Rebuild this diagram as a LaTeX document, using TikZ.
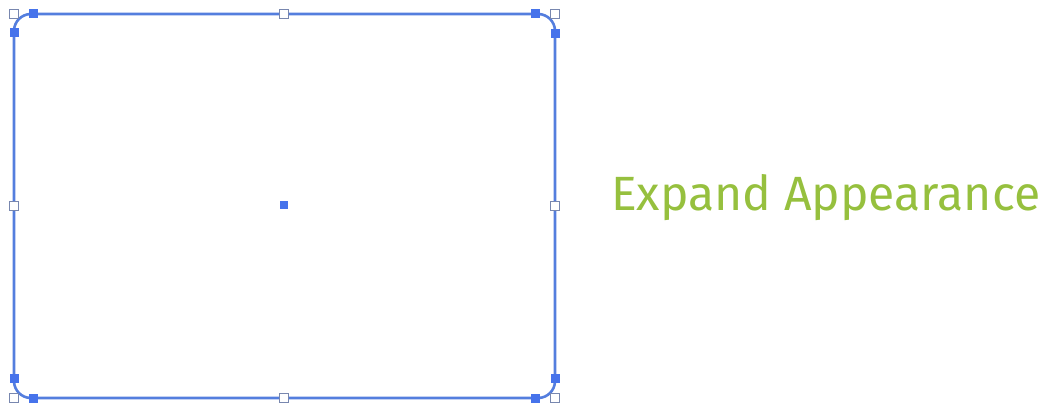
\documentclass[tikz,border=0pt]{standalone}
\usepackage{fontspec}
\setmainfont{Fira Sans}
\definecolor{pathblue}{RGB}{84,126,222}
\definecolor{boxgray}{RGB}{120,135,175}
\definecolor{anchorblue}{RGB}{70,115,235}
\definecolor{txtgreen}{RGB}{150,192,62}
\begin{document}
\begin{tikzpicture}[x=1pt,y=-1pt,
  hollow/.style={draw=boxgray,fill=white,line width=1.3pt,minimum size=9.5pt,inner sep=0pt,outer sep=0pt,rectangle},
  solid/.style={fill=anchorblue,draw=none,minimum size=9pt,inner sep=0pt,rectangle},
  pathline/.style={draw=pathblue,line width=2.6pt}]
\useasboundingbox (0,0) rectangle (1054,408);
% shape path
\draw[pathline,rounded corners=17pt] (14,14) rectangle (555,398);
% bounding box handles
\node[hollow] (tl) at (14,14) {};
\node[hollow] (tm) at (284,14) {};
\node[hollow] (tr) at (555,14) {};
\node[hollow] (ml) at (14,206) {};
\node[hollow] (mr) at (555,206) {};
\node[hollow] (bl) at (14,398) {};
\node[hollow] (bm) at (284,398) {};
\node[hollow] (br) at (555,398) {};
% anchor points
\node[solid] (a1) at (33,13) {};
\node[solid] (a2) at (14,32) {};
\node[solid] (a3) at (535,13) {};
\node[solid] (a4) at (555,33) {};
\node[solid] (a5) at (14,378) {};
\node[solid] (a6) at (33,398) {};
\node[solid] (a7) at (555,378) {};
\node[solid] (a8) at (535,398) {};
\node[solid,minimum size=8pt] (c) at (284,205) {};
% label
\node[anchor=west,inner sep=0pt,text=txtgreen] (lbl) at (611,198) {\resizebox{429pt}{!}{Expand Appearance}};
\end{tikzpicture}
\end{document}
